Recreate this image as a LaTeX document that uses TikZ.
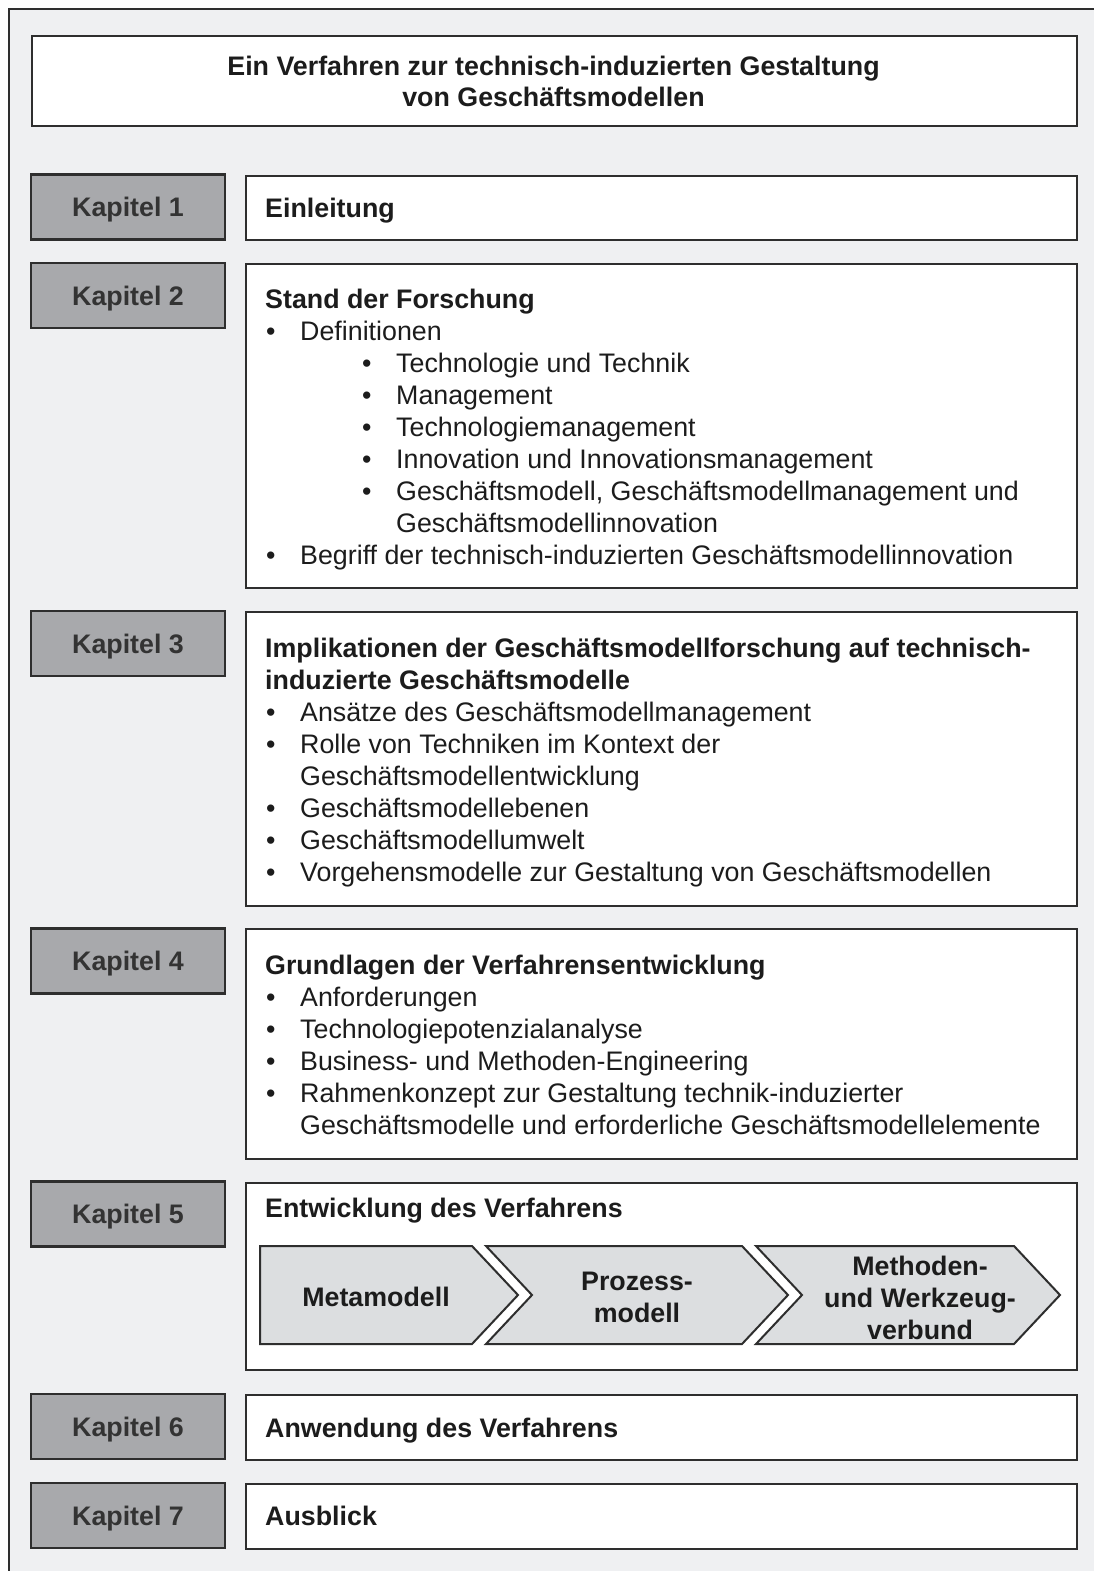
\documentclass[tikz,border=0pt]{standalone}
\usepackage{fontspec}
\setmainfont{Liberation Sans}
\definecolor{pagebg}{HTML}{EFF0F2}
\definecolor{edge}{HTML}{2E2E2E}
\definecolor{kapfill}{HTML}{A8A9AC}
\definecolor{chevfill}{HTML}{DCDEE0}
\definecolor{ink}{HTML}{1C1C1C}
\newcommand\tline[4]{\node[txtline] (#1) at (#2,#3) {#4};}
\newcommand\bul[3]{\node[txtline] (#1) at (#2,#3) {\textbullet};}
\begin{document}
\begin{tikzpicture}[x=1pt,y=-1pt,
  every node/.style={text=ink},
  kapbox/.style={draw=edge, fill=kapfill, line width=2.4pt, minimum width=194pt,
    minimum height=65pt, inner sep=0pt, font=\fontsize{26.8}{32}\selectfont\bfseries,
    text height=19pt, text depth=0pt, text=ink!90},
  cbox/.style={draw=edge, fill=white, line width=2.4pt, anchor=north west,
    minimum width=831pt, inner sep=0pt},
  txtline/.style={anchor=base west, inner sep=0pt, font=\fontsize{26.8}{32}\selectfont},
  hd/.style={font=\fontsize{26.8}{32}\selectfont\bfseries},
  chev/.style={draw=edge, fill=chevfill, line width=2pt, line join=miter},
  chevtext/.style={align=center, inner sep=0pt, font=\fontsize{26.8}{32}\selectfont\bfseries},
]
\useasboundingbox (0,0) rectangle (1094,1571);
% page and outer frame
\fill[white] (0,0) rectangle (1094,1571);
\fill[pagebg] (9,9) rectangle (1094,1571);
\draw[edge, line width=2.4pt] (9,1571) -- (9,9) -- (1094,9);

% title
\node[cbox, minimum width=1045pt, minimum height=90pt] (title) at (31,35) {};
\node[txtline, hd, anchor=base] (t1) at (553.5,75) {Ein Verfahren zur technisch-induzierten Gestaltung};
\node[txtline, hd, anchor=base] (t2) at (553.5,106) {von Geschäftsmodellen};

% chapter labels
\node[kapbox] (k1) at (128,207) {Kapitel 1};
\node[kapbox] (k2) at (128,295.5) {Kapitel 2};
\node[kapbox] (k3) at (128,643.5) {Kapitel 3};
\node[kapbox] (k4) at (128,961) {Kapitel 4};
\node[kapbox] (k5) at (128,1214) {Kapitel 5};
\node[kapbox] (k6) at (128,1426.5) {Kapitel 6};
\node[kapbox] (k7) at (128,1515.5) {Kapitel 7};

% chapter contents
\node[cbox, minimum height=64pt] (c1) at (245,175) {};
\node[cbox, minimum height=324pt] (c2) at (245,263) {};
\node[cbox, minimum height=294pt] (c3) at (245,611) {};
\node[cbox, minimum height=230pt] (c4) at (245,928) {};
\node[cbox, minimum height=187pt] (c5) at (245,1182) {};
\node[cbox, minimum height=65pt] (c6) at (245,1394) {};
\node[cbox, minimum height=65pt] (c7) at (245,1483) {};

% chapter 1
\node[txtline, hd] (h1) at (265,217) {Einleitung};

% chapter 2
\node[txtline, hd] (h2) at (265,308) {Stand der Forschung};
\bul{b21}{266}{340}\tline{l21}{300}{340}{Definitionen}
\bul{b22}{362}{372}\tline{l22}{396}{372}{Technologie und Technik}
\bul{b23}{362}{404}\tline{l23}{396}{404}{Management}
\bul{b24}{362}{436}\tline{l24}{396}{436}{Technologiemanagement}
\bul{b25}{362}{468}\tline{l25}{396}{468}{Innovation und Innovationsmanagement}
\bul{b26}{362}{500}\tline{l26}{396}{500}{Geschäftsmodell, Geschäftsmodellmanagement und}
\tline{l27}{396}{532}{Geschäftsmodellinnovation}
\bul{b28}{266}{564}\tline{l28}{300}{564}{Begriff der technisch-induzierten Geschäftsmodellinnovation}

% chapter 3
\node[txtline, hd] (h3a) at (265,657) {Implikationen der Geschäftsmodellforschung auf technisch-};
\node[txtline, hd] (h3b) at (265,689) {induzierte Geschäftsmodelle};
\bul{b31}{266}{721}\tline{l31}{300}{721}{Ansätze des Geschäftsmodellmanagement}
\bul{b32}{266}{753}\tline{l32}{300}{753}{Rolle von Techniken im Kontext der}
\tline{l33}{300}{785}{Geschäftsmodellentwicklung}
\bul{b34}{266}{817}\tline{l34}{300}{817}{Geschäftsmodellebenen}
\bul{b35}{266}{849}\tline{l35}{300}{849}{Geschäftsmodellumwelt}
\bul{b36}{266}{881}\tline{l36}{300}{881}{Vorgehensmodelle zur Gestaltung von Geschäftsmodellen}

% chapter 4
\node[txtline, hd] (h4) at (265,974) {Grundlagen der Verfahrensentwicklung};
\bul{b41}{266}{1006}\tline{l41}{300}{1006}{Anforderungen}
\bul{b42}{266}{1038}\tline{l42}{300}{1038}{Technologiepotenzialanalyse}
\bul{b43}{266}{1070}\tline{l43}{300}{1070}{Business- und Methoden-Engineering}
\bul{b44}{266}{1102}\tline{l44}{300}{1102}{Rahmenkonzept zur Gestaltung technik-induzierter}
\tline{l45}{300}{1134}{Geschäftsmodelle und erforderliche Geschäftsmodellelemente}

% chapter 5
\node[txtline, hd] (h5) at (265,1217) {Entwicklung des Verfahrens};
\draw[chev] (260,1246) -- (472,1246) -- (518,1295) -- (472,1344) -- (260,1344) -- cycle;
\draw[chev] (486,1246) -- (742,1246) -- (788,1295) -- (742,1344) -- (486,1344) -- (532,1295) -- cycle;
\draw[chev] (756,1246) -- (1014,1246) -- (1060,1295) -- (1014,1344) -- (756,1344) -- (802,1295) -- cycle;
\node[chevtext] (p1) at (376,1297) {Metamodell};
\node[chevtext] (p2) at (637,1297) {Prozess-\\modell};
\node[chevtext] (p3) at (920,1298) {Methoden-\\und Werkzeug-\\verbund};

% chapters 6 and 7
\node[txtline, hd] (h6) at (265,1437) {Anwendung des Verfahrens};
\node[txtline, hd] (h7) at (265,1525) {Ausblick};
\end{tikzpicture}
\end{document}
